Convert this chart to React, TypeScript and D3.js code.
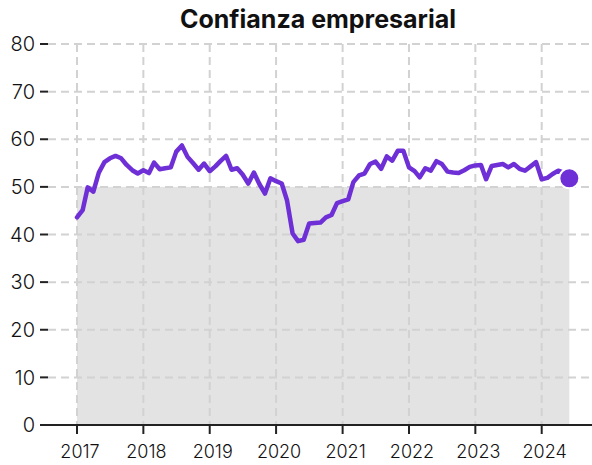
import React from 'react';
import * as d3 from 'd3';

// Monthly index values, Jan 2017 - Jun 2024
const values2017 = [43.6, 45.1, 49.9, 49.0, 53.0, 55.2, 56.0, 56.5, 56.0, 54.6, 53.5, 52.8];
const values2018 = [53.5, 52.9, 55.1, 53.7, 53.9, 54.1, 57.4, 58.7, 56.3, 55.0, 53.6, 54.9];
const values2019 = [53.3, 54.3, 55.4, 56.5, 53.6, 53.9, 52.6, 50.7, 53.0, 50.6, 48.6, 51.8];
const values2020 = [51.2, 50.7, 47.2, 40.2, 38.6, 38.9, 42.3, 42.4, 42.5, 43.6, 44.1, 46.6];
const values2021 = [47.0, 47.4, 51.0, 52.4, 52.8, 54.8, 55.3, 53.8, 56.4, 55.5, 57.6, 57.6];
const values2022 = [54.1, 53.3, 52.0, 53.9, 53.4, 55.4, 54.8, 53.2, 53.0, 52.9, 53.5, 54.2];
const values2023 = [54.5, 54.6, 51.6, 54.4, 54.6, 54.8, 54.1, 54.8, 53.8, 53.4, 54.3, 55.2];
const values2024 = [51.6, 51.9, 52.7, 53.4, 53.0, 51.8];

const yearTicks = [2017, 2018, 2019, 2020, 2021, 2022, 2023, 2024];
const yTicks = [0, 10, 20, 30, 40, 50, 60, 70, 80];
const threshold = 50;

const allValues = [
    ...values2017, ...values2018, ...values2019, ...values2020,
    ...values2021, ...values2022, ...values2023, ...values2024,
];
const data = allValues.map((v, i) => ({ date: new Date(2017, i, 1), value: v }));

const WIDTH = 592;
const HEIGHT = 465;
const FONT = 'Inter, "DejaVu Sans", sans-serif';
const PURPLE = '#6e2fd6';

const App: React.FC = () => {
    const x = d3.scaleTime()
        .domain([new Date(2017, 0, 1), new Date(2024, 0, 1)])
        .range([77, 541.7]);
    const y = d3.scaleLinear().domain([0, 80]).range([425, 44]);

    const line = d3.line<{ date: Date; value: number }>()
        .x(d => x(d.date))
        .y(d => y(d.value))
        .curve(d3.curveLinear);

    const first = data[0];
    const last = data[data.length - 1];

    return (
        <svg
            width={WIDTH}
            height={HEIGHT}
            style={{ position: 'absolute', left: 0, top: 0, background: '#ffffff' }}
        >
            {/* Threshold band */}
            <rect
                x={x(first.date)}
                y={y(threshold)}
                width={x(last.date) - x(first.date)}
                height={y(0) - y(threshold)}
                fill="#e3e3e3"
            />

            {/* Grid */}
            {yTicks.filter(t => t > 0).map(t => (
                <line key={`gy${t}`} x1={48} x2={WIDTH} y1={y(t)} y2={y(t)}
                    stroke="#d2d2d2" strokeWidth={2} strokeDasharray="8,5" />
            ))}
            {yearTicks.map(yr => (
                <line key={`gx${yr}`} x1={x(new Date(yr, 0, 1))} x2={x(new Date(yr, 0, 1))}
                    y1={y(80)} y2={y(0)}
                    stroke="#d2d2d2" strokeWidth={2} strokeDasharray="8,5" />
            ))}

            {/* Y axis ticks + labels */}
            {yTicks.map(t => (
                <g key={`yt${t}`}>
                    <line x1={40} x2={48} y1={y(t)} y2={y(t)} stroke="#222" strokeWidth={2} />
                    <text x={35} y={y(t)} dy="0.36em" textAnchor="end"
                        fontFamily={FONT} fontSize={20} fontWeight={300} fill="#111">{t}</text>
                </g>
            ))}

            {/* X axis */}
            <line x1={45} x2={WIDTH} y1={y(0)} y2={y(0)} stroke="#222" strokeWidth={2} />
            {yearTicks.map(yr => (
                <g key={`xt${yr}`}>
                    <line x1={x(new Date(yr, 0, 1))} x2={x(new Date(yr, 0, 1))}
                        y1={y(0)} y2={y(0) + 9} stroke="#222" strokeWidth={2} />
                    <text x={x(new Date(yr, 0, 1)) + 3} y={458} textAnchor="middle"
                        fontFamily={FONT} fontSize={18} fontWeight={300} fill="#111">{yr}</text>
                </g>
            ))}

            {/* Series */}
            <path d={line(data) ?? ''} fill="none" stroke={PURPLE} strokeWidth={4.5}
                strokeLinejoin="round" strokeLinecap="round" />
            <circle cx={x(last.date)} cy={y(last.value)} r={10}
                fill={PURPLE} stroke="#ffffff" strokeWidth={2} />

            {/* Title */}
            <text x={318} y={28} textAnchor="middle" fontFamily={FONT}
                fontSize={25} fontWeight={700} fill="#111">Confianza empresarial</text>
        </svg>
    );
};

export default App;
